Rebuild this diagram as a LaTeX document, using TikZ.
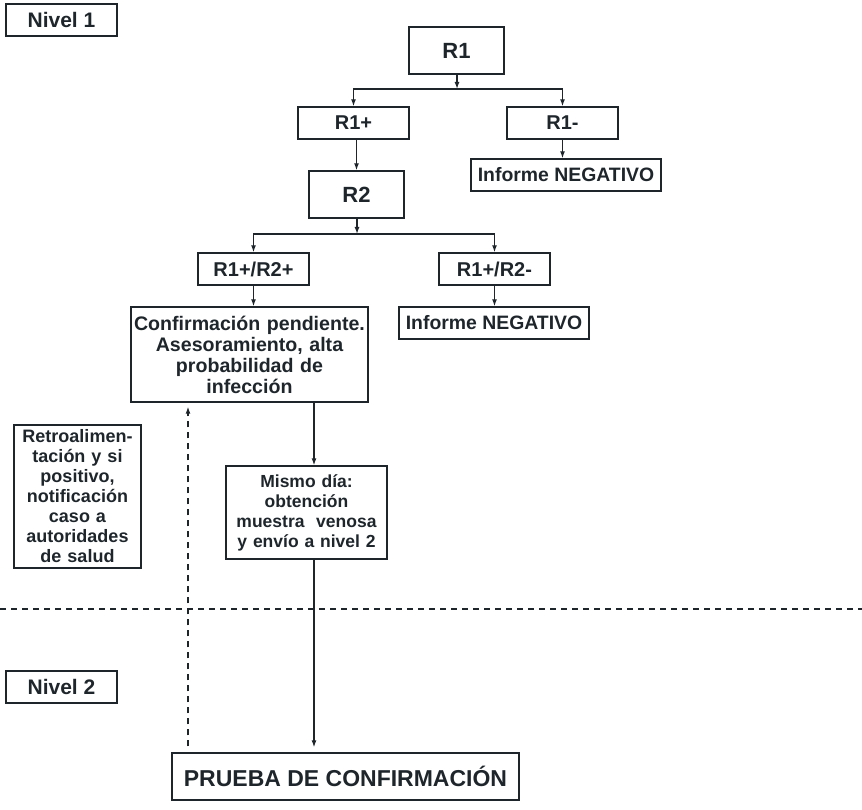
\documentclass[tikz,border=0pt]{standalone}
\usepackage{fontspec}
\setmainfont{Liberation Sans}
\usetikzlibrary{arrows.meta,calc}
\definecolor{ink}{RGB}{30,38,44}
\begin{document}
\begin{tikzpicture}[x=1pt,y=-1pt,
  box/.style={draw=ink,line width=1.4pt,text=ink,font=\bfseries,inner sep=0pt,align=center},
  arr/.style={draw=ink,line width=1.3pt,-{Latex[length=7pt,width=5pt]}},
  dashline/.style={draw=ink,line width=1.3pt,dash pattern=on 6pt off 5pt}]
\useasboundingbox (0,0) rectangle (862,810);
\node[box,minimum width=111pt,minimum height=32pt,font=\bfseries\fontsize{21}{24}\selectfont] (niv1) at (61.5,20) {Nivel 1};
\node[box,minimum width=95pt,minimum height=47pt,font=\bfseries\fontsize{22}{25}\selectfont] (R1) at (456.5,50.5) {R1};
\node[box,minimum width=111pt,minimum height=32pt,font=\bfseries\fontsize{20}{23}\selectfont] (R1p) at (353.5,123) {R1+};
\node[box,minimum width=111pt,minimum height=32pt,font=\bfseries\fontsize{20}{23}\selectfont] (R1m) at (562.5,123) {R1-};
\node[box,minimum width=190pt,minimum height=32pt,font=\bfseries\fontsize{19.4}{22}\selectfont] (neg1) at (566,175) {Informe NEGATIVO};
\node[box,minimum width=95pt,minimum height=47pt,font=\bfseries\fontsize{22}{25}\selectfont] (R2) at (356.5,194.5) {R2};
\node[box,minimum width=111pt,minimum height=32pt,font=\bfseries\fontsize{20}{23}\selectfont] (r12p) at (253.5,269) {R1+/R2+};
\node[box,minimum width=111pt,minimum height=32pt,font=\bfseries\fontsize{20}{23}\selectfont] (r12m) at (494.5,269) {R1+/R2-};
\node[box,minimum width=190pt,minimum height=32pt,font=\bfseries\fontsize{19.4}{22}\selectfont] (neg2) at (494,323) {Informe NEGATIVO};
\node[box,minimum width=237pt,minimum height=95pt,text width=235pt,font=\bfseries\fontsize{19.6}{21}\selectfont] (conf) at (249.5,354.5) {Confirmación pendiente.\\Asesoramiento, alta\\probabilidad de\\infección};
\node[box,minimum width=161pt,minimum height=93pt,text width=159pt,font=\bfseries\fontsize{17.5}{20}\selectfont] (mismo) at (306.5,512.5) {Mismo día:\\obtención\\muestra\ \ venosa\\y envío a nivel 2};
\node[box,minimum width=127pt,minimum height=143pt,text width=125pt,font=\bfseries\fontsize{18}{20}\selectfont] (retro) at (77.5,496.5) {Retroalimen-\\tación y si\\positivo,\\notificación\\caso a\\autoridades\\de salud};
\node[box,minimum width=111pt,minimum height=32pt,font=\bfseries\fontsize{21}{24}\selectfont] (niv2) at (61.5,687) {Nivel 2};
\node[box,minimum width=347pt,minimum height=47pt,font=\bfseries\fontsize{23}{26}\selectfont] (prueba) at (345.5,776.5) {PRUEBA DE CONFIRMACIÓN};
% junctions
\coordinate (j1) at (457,89);
\coordinate (j2) at (357,234);
\coordinate (cx) at (314,0);
\coordinate (dx) at (188,0);
\coordinate (hl) at (0,609);
\coordinate (hr) at (862,609);
% connectors
\draw[arr] (R1.south -| j1) -- (j1);
\draw[arr] (j1) -| (R1p.north);
\draw[arr] (j1) -| (R1m.north);
\draw[arr] (R1m.south) -- (R1m.south |- neg1.north);
\draw[arr] (R2.north |- R1p.south) -- (R2.north);
\draw[arr] (R2.south -| j2) -- (j2);
\draw[arr] (j2) -| (r12p.north);
\draw[arr] (j2) -| (r12m.north);
\draw[arr] (r12p.south) -- (r12p.south |- conf.north);
\draw[arr] (r12m.south) -- (r12m.south |- neg2.north);
\draw[arr] (conf.south -| cx) -- (mismo.north -| cx);
\draw[arr,shorten >=5pt] (mismo.south -| cx) -- (prueba.north -| cx);
\draw[dashline,-{Latex[length=7pt,width=5pt]},shorten <=6pt,shorten >=4pt] (prueba.north -| dx) -- (conf.south -| dx);
\draw[dashline] (hl) -- (hr);
\end{tikzpicture}
\end{document}
